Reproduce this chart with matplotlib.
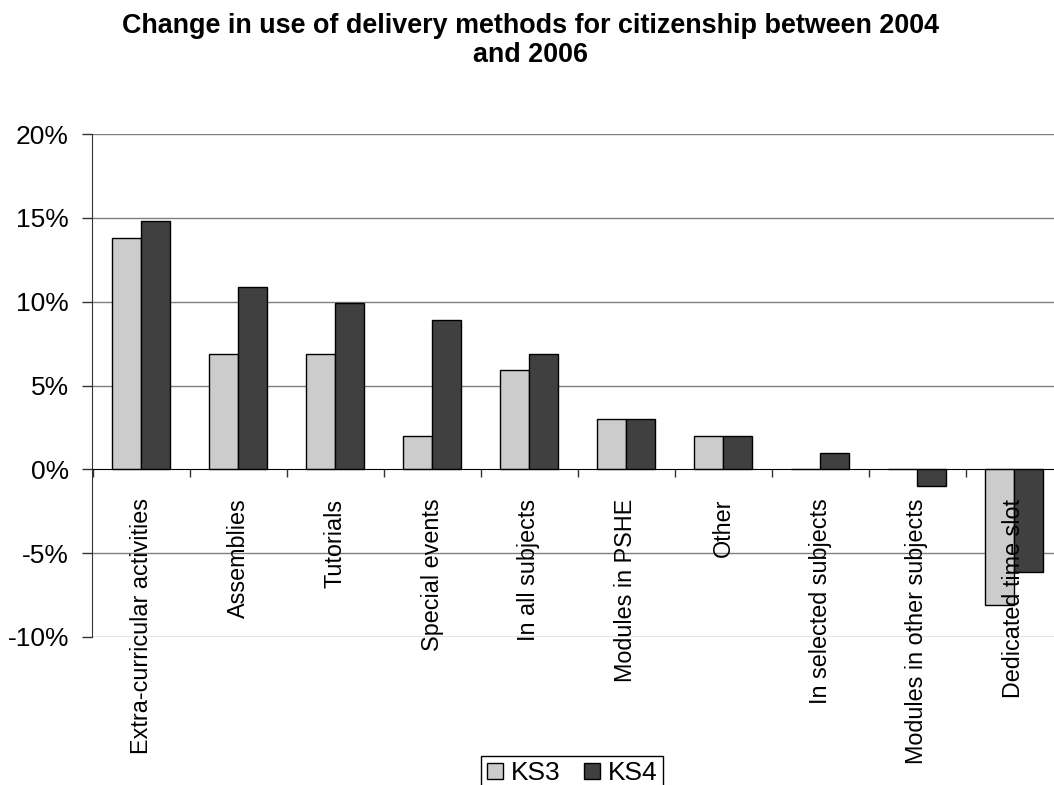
import matplotlib
matplotlib.use("Agg")
import matplotlib.pyplot as plt
import numpy as np

plt.rcParams['font.family'] = ['Liberation Sans', 'DejaVu Sans']

categories = ['Extra-curricular activities', 'Assemblies', 'Tutorials', 'Special events',
              'In all subjects', 'Modules in PSHE', 'Other', 'In selected subjects',
              'Modules in other subjects', 'Dedicated time slot']
ks3 = [13.8, 6.9, 6.9, 2.0, 5.9, 3.0, 2.0, 0.0, 0.0, -8.1]
ks4 = [14.8, 10.9, 9.9, 8.9, 6.9, 3.0, 2.0, 1.0, -1.0, -6.1]
yticks = [-10, -5, 0, 5, 10, 15, 20]

fig = plt.figure(figsize=(10.54, 7.85), dpi=100)
# plot area runs slightly past the right edge of the canvas
ax = fig.add_axes([92.5 / 1054, 1 - 637 / 785, 970 / 1054, 503 / 785])

x = np.arange(len(categories))
w = 0.295
b3 = ax.bar(x - w / 2, ks3, w, color='#cccccc', edgecolor='black', linewidth=1.0, zorder=1)
b4 = ax.bar(x + w / 2, ks4, w, color='#404040', edgecolor='black', linewidth=1.0, zorder=1)

# horizontal grid under the bars
for t in yticks:
    if t != 0:
        ax.axhline(t, color='#7f7f7f', linewidth=1.0, zorder=0.5)

ax.set_xlim(-0.5, len(categories) - 0.5)
ax.set_ylim(-10, 20)
ax.set_yticks(yticks)
ax.set_yticklabels(['{:d}%'.format(t) for t in yticks], fontsize=19)
ax.tick_params(axis='y', direction='out', length=7, width=1, color='#333333', pad=10)

ax.spines['bottom'].set_position(('data', 0))
ax.spines['bottom'].set_color('black')
ax.spines['left'].set_color('#333333')
ax.spines['right'].set_visible(False)
ax.spines['top'].set_visible(False)

ax.set_xticks(np.arange(len(categories) + 1) - 0.5)
ax.set_xticklabels([])
ax.tick_params(axis='x', which='major', direction='out', length=5.5, width=1, color='#333333')
ax.set_xticks(x, categories, minor=True, rotation=90, fontsize=16.8, va='top', ha='center')
ax.tick_params(axis='x', which='minor', length=0, pad=21)

fig.text(0.503, 1 - 13 / 785,
         'Change in use of delivery methods for citizenship between 2004\nand 2006',
         ha='center', va='top', fontsize=19.4, fontweight='bold', linespacing=1.15)

ax.legend([b3, b4], ['KS3', 'KS4'], loc='upper center', ncol=2,
          bbox_to_anchor=(572 / 1054, 1 - 756 / 785), bbox_transform=fig.transFigure,
          fontsize=19, frameon=True, fancybox=False, edgecolor='black', framealpha=1,
          handlelength=0.6, handleheight=0.6, handletextpad=0.3, columnspacing=0.9,
          borderpad=0.2, borderaxespad=0)

fig.savefig('out.png', dpi=100)
